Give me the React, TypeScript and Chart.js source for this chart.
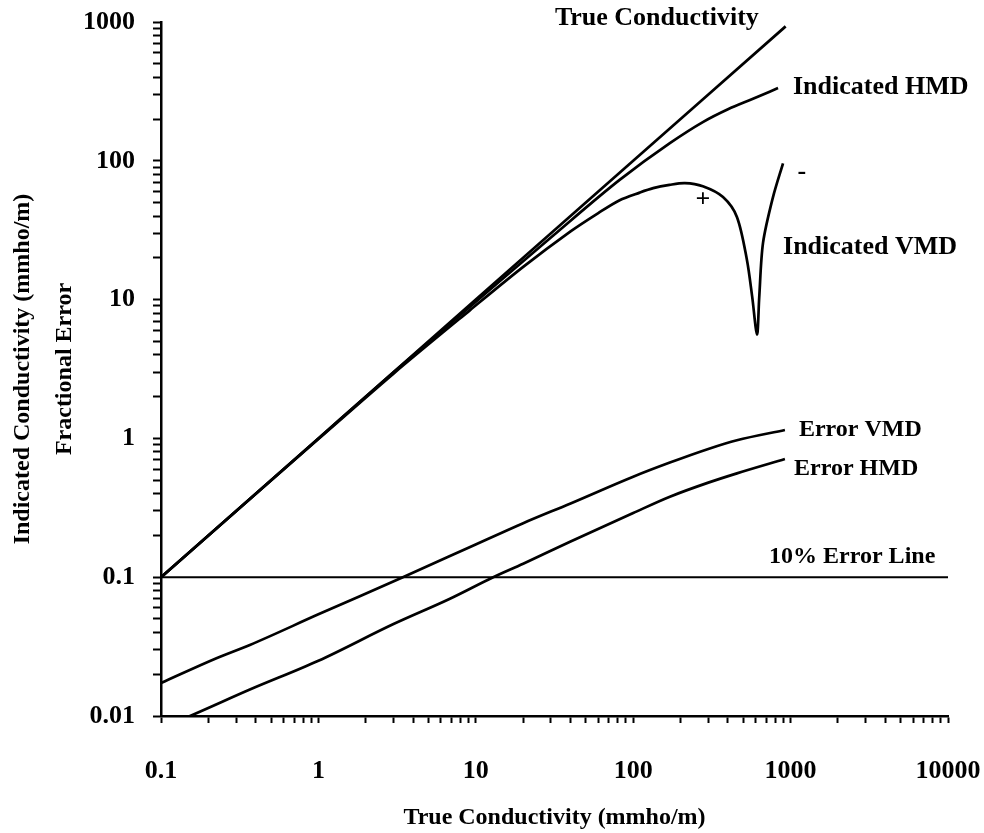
import React, { useEffect, useRef } from 'react';
import { Chart, registerables } from 'chart.js';

Chart.register(...registerables);

// ---- axis ticks ----
const xDecades = [0.1, 1, 10, 100, 1000, 10000];
const xTickLabels = ['0.1', '1', '10', '100', '1000', '10000'];
const yDecades = [0.01, 0.1, 1, 10, 100, 1000];
const yTickLabels = ['0.01', '0.1', '1', '10', '100', '1000'];

// ---- series ----
const trueX = [0.1, 1, 10, 100, 930];
const trueY = [0.1, 1, 10, 100, 930];

const hmdX = [0.1, 1, 3, 9.2, 30, 82, 171, 277, 400, 577, 832];
const hmdY = [0.1, 1, 2.99, 8.9, 28, 72.8, 134, 190, 235, 280, 334];

const vmdX = [0.1, 1, 3, 9.2, 20, 40, 60, 82, 110, 134, 170, 213, 277, 372, 456, 528, 570, 612, 632, 668, 773, 895];
const vmdY = [0.1, 0.99, 2.93, 8.4, 17.2, 31, 42, 52, 59, 63.5, 67, 69, 65.5, 54.8, 39.4, 19.3, 10.5, 5.6, 10.4, 25.6, 54.8, 96];

const errVmdX = [0.1, 0.227, 0.367, 1, 3.44, 9.2, 20, 40, 100, 171, 300, 456, 920];
const errVmdY = [0.0173, 0.0262, 0.0325, 0.054, 0.1, 0.165, 0.245, 0.34, 0.53, 0.67, 0.84, 0.97, 1.15];

const errHmdX = [0.1, 0.153, 0.367, 1, 3, 6.85, 12.9, 20, 39.7, 100, 171, 300, 456, 920];
const errHmdY = [0.0082, 0.01, 0.0155, 0.025, 0.046, 0.07, 0.1, 0.125, 0.18, 0.29, 0.38, 0.48, 0.56, 0.71];

const errLineX = [0.1, 10000];
const errLineY = [0.1, 0.1];

// ---- annotation texts (anchored in data coordinates) ----
const noteTexts = ['True Conductivity', 'Indicated HMD', 'Indicated VMD', '+', '-', 'Error VMD', 'Error HMD', '10% Error Line'];
const noteX = [31.8, 1035, 895, 277, 1180, 1130, 1052, 730];
const noteY = [1069, 340, 23.9, 52.3, 83, 1.15, 0.602, 0.14];
const noteAlign: CanvasTextAlign[] = ['left', 'left', 'left', 'center', 'center', 'left', 'left', 'left'];
const noteSize = [26, 26, 26, 26, 26, 24, 24, 24];

const FONT = '"Liberation Serif", "Times New Roman", serif';

function pts(xs: number[], ys: number[]) {
  return xs.map((x, i) => ({ x, y: ys[i] }));
}

function buildTicks(decades: number[]) {
  const out: { value: number }[] = [];
  decades.forEach((d, i) => {
    out.push({ value: d });
    if (i < decades.length - 1) {
      for (let k = 2; k <= 9; k++) out.push({ value: d * k });
    }
  });
  return out;
}

function labelFor(decades: number[], labels: string[], v: number) {
  const idx = decades.findIndex((d) => Math.abs(d - v) / d < 1e-6);
  return idx >= 0 ? labels[idx] : '';
}

const notesPlugin = {
  id: 'notes',
  afterDatasetsDraw(chart: any) {
    const { ctx, scales } = chart;
    const xs = scales.x;
    const ys = scales.y;
    ctx.save();
    ctx.fillStyle = '#000';
    ctx.textBaseline = 'middle';
    noteTexts.forEach((t, i) => {
      ctx.font = `bold ${noteSize[i]}px ${FONT}`;
      ctx.textAlign = noteAlign[i];
      ctx.fillText(t, xs.getPixelForValue(noteX[i]), ys.getPixelForValue(noteY[i]));
    });
    ctx.restore();
  },
};

export default function App() {
  const ref = useRef<HTMLCanvasElement | null>(null);

  useEffect(() => {
    if (!ref.current) return;
    const lineStyle = {
      borderColor: '#000',
      borderWidth: 2.7,
      pointRadius: 0,
      fill: false,
      cubicInterpolationMode: 'monotone' as const,
    };
    const chart = new Chart(ref.current, {
      type: 'line',
      data: {
        datasets: [
          { label: 'True Conductivity', data: pts(trueX, trueY), ...lineStyle },
          { label: 'Indicated HMD', data: pts(hmdX, hmdY), ...lineStyle },
          {
            label: 'Indicated VMD',
            data: pts(vmdX, vmdY),
            ...lineStyle,
            cubicInterpolationMode: 'default',
            tension: 0.3,
          },
          { label: 'Error VMD', data: pts(errVmdX, errVmdY), ...lineStyle },
          { label: 'Error HMD', data: pts(errHmdX, errHmdY), ...lineStyle },
          { label: '10% Error Line', data: pts(errLineX, errLineY), ...lineStyle, borderWidth: 2 },
        ],
      },
      options: {
        animation: false,
        responsive: true,
        maintainAspectRatio: false,
        layout: { padding: { top: 22, right: 36, bottom: 0, left: 0 } },
        plugins: {
          legend: { display: false },
          tooltip: { enabled: false },
        },
        scales: {
          x: {
            type: 'logarithmic',
            min: 0.1,
            max: 10000,
            afterBuildTicks: (s: any) => {
              s.ticks = buildTicks(xDecades);
            },
            afterFit: (s: any) => {
              s.height = 117;
              s.paddingLeft = 0;
              s.paddingRight = 0;
            },
            border: { display: true, color: '#000', width: 2.5 },
            grid: {
              display: true,
              drawOnChartArea: false,
              drawTicks: true,
              tickLength: 7,
              tickColor: '#000',
              tickWidth: 2,
            },
            ticks: {
              autoSkip: false,
              maxRotation: 0,
              padding: 33,
              color: '#000',
              font: { family: FONT, size: 26, weight: 'bold' },
              callback: (v: any) => labelFor(xDecades, xTickLabels, Number(v)),
            },
            title: {
              display: true,
              text: 'True Conductivity (mmho/m)',
              color: '#000',
              font: { family: FONT, size: 24, weight: 'bold' },
              padding: { top: 0, bottom: 1 },
            },
          },
          y: {
            type: 'logarithmic',
            min: 0.01,
            max: 1000,
            afterBuildTicks: (s: any) => {
              s.ticks = buildTicks(yDecades);
            },
            afterFit: (s: any) => {
              s.width = 161;
              s.paddingTop = 0;
              s.paddingBottom = 0;
            },
            border: { display: true, color: '#000', width: 2.5 },
            grid: {
              display: true,
              drawOnChartArea: false,
              drawTicks: true,
              tickLength: 8,
              tickColor: '#000',
              tickWidth: 2,
            },
            ticks: {
              autoSkip: false,
              padding: 18,
              color: '#000',
              font: { family: FONT, size: 26, weight: 'bold' },
              callback: (v: any) => labelFor(yDecades, yTickLabels, Number(v)),
            },
            title: {
              display: true,
              text: ['Indicated Conductivity (mmho/m)', 'Fractional Error'],
              color: '#000',
              font: { family: FONT, size: 24, weight: 'bold', lineHeight: 1.75 },
              padding: { top: 2, bottom: 0 },
            },
          },
        },
      },
      plugins: [notesPlugin],
    } as any);
    return () => chart.destroy();
  }, []);

  return (
    <div
      style={{
        position: 'fixed',
        left: 0,
        top: 0,
        width: 984,
        height: 833,
        background: '#fff',
      }}
    >
      <canvas ref={ref} />
    </div>
  );
}
